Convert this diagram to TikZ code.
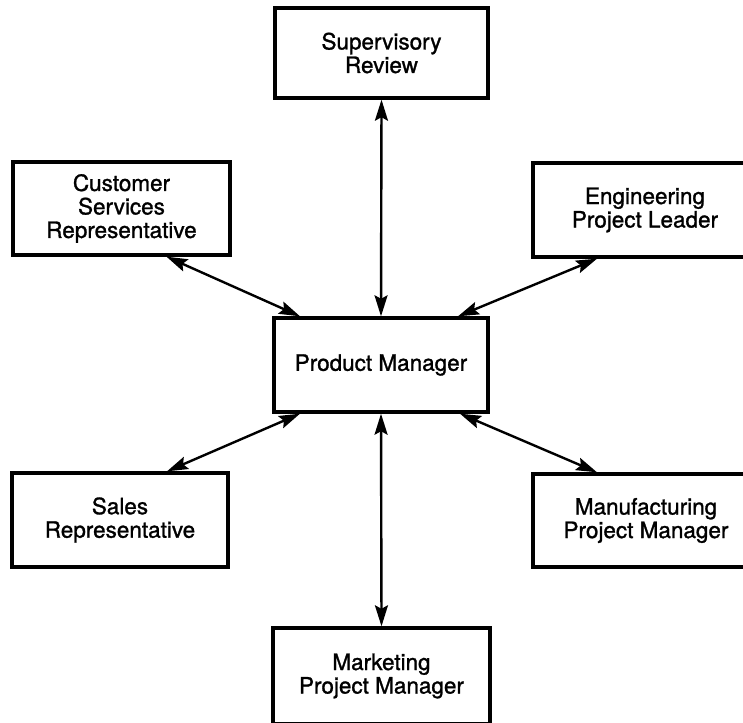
\documentclass[tikz,border=0pt]{standalone}
\usepackage{fontspec}
\setmainfont{TeX Gyre Heros}[FakeBold=1.2]
\usetikzlibrary{arrows.meta}
\begin{document}
\begin{tikzpicture}[x=1pt,y=-1pt,
  box/.style={draw,line width=3.4pt,fill=white,align=center,inner sep=0pt,
    font=\fontsize{22.5}{23.5}\selectfont},
  link/.style={line width=2.4pt,
    {Stealth[length=21pt,width=13pt,inset=3.5pt]}-{Stealth[length=21pt,width=13pt,inset=3.5pt]}}]
\clip (0,0) rectangle (743,722);
\useasboundingbox (0,0) rectangle (743,722);
\node[box,minimum width=213pt,minimum height=90pt] (sup) at (381.5,53) {Supervisory\\Review};
\node[box,minimum width=217pt,minimum height=93pt] (cust) at (121.5,208.5) {Customer\\Services\\Representative};
\node[box,minimum width=224pt,minimum height=94pt] (eng) at (645,210) {Engineering\\Project Leader};
\node[box,minimum width=214pt,minimum height=94pt] (pm) at (381,365) {Product Manager};
\node[box,minimum width=216pt,minimum height=94pt] (sales) at (120,520) {Sales\\Representative};
\node[box,minimum width=226pt,minimum height=93pt] (mfg) at (646,520.5) {Manufacturing\\Project Manager};
\node[box,minimum width=217pt,minimum height=96pt] (mkt) at (381.5,676) {Marketing\\Project Manager};
\draw[link] (sup.south) -- (pm.north);
\draw[link] (pm.south) -- (mkt.north);
\draw[link] ([xshift=45pt]cust.south) -- ([xshift=-81pt]pm.north);
\draw[link] ([xshift=-48pt]eng.south) -- ([xshift=77pt]pm.north);
\draw[link] ([xshift=47pt]sales.north) -- ([xshift=-81pt]pm.south);
\draw[link] ([xshift=-49pt]mfg.north) -- ([xshift=79pt]pm.south);
\end{tikzpicture}
\end{document}
